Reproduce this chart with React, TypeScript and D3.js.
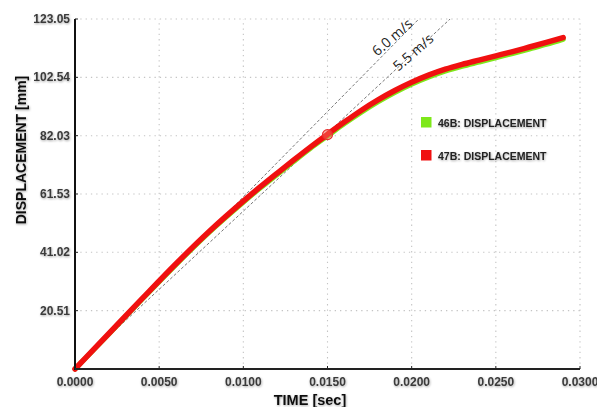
import React from "react";
import * as d3 from "d3";

const timeS = [0, 0.002, 0.004, 0.006, 0.008, 0.01, 0.011, 0.012, 0.013, 0.014, 0.015, 0.016, 0.017, 0.018, 0.019, 0.02, 0.021, 0.022, 0.023, 0.024, 0.025, 0.026, 0.027, 0.028, 0.029];
const disp47B = [0, 12.4, 24.8, 37.0, 48.5, 59.0, 64.0, 68.8, 73.5, 78.1, 82.5, 86.8, 90.9, 94.6, 97.9, 100.8, 103.3, 105.4, 107.1, 108.6, 110.1, 111.6, 113.2, 114.8, 116.5];
const disp46B = [0, 12.2, 24.6, 36.7, 48.2, 58.6, 63.6, 68.3, 73.0, 77.6, 81.9, 86.2, 90.2, 93.9, 97.2, 100.1, 102.6, 104.7, 106.4, 107.9, 109.4, 110.9, 112.5, 114.1, 115.9];

const xTicks = [0, 0.005, 0.01, 0.015, 0.02, 0.025, 0.03];
const yTicks = [0, 20.51, 41.02, 61.53, 82.03, 102.54, 123.05];

const refLines = [
  { label: "6.0 m/s", speed: 6000, offset: 0.5 },
  { label: "5.5 m/s", speed: 5500, offset: 0.5 },
];
const markerTime = [0.015];
const markerDisp = [82.4];

const legendItems = [
  { name: "46B: DISPLACEMENT", color: "#7ee81a" },
  { name: "47B: DISPLACEMENT", color: "#f01010" },
];

export default function App() {
  const W = 597, H = 407;
  const x = d3.scaleLinear().domain([0, 0.03]).range([75, 580]);
  const y = d3.scaleLinear().domain([0, 123.05]).range([369, 19]);
  const line = d3.line<number>().x((_, i) => x(timeS[i])).y((d) => y(d)).curve(d3.curveMonotoneX);
  const fontB = "Arial, 'Liberation Sans', sans-serif";
  const labelPos = [
    [395.5, 41],
    [416.5, 56],
  ];

  return (
    <svg width={W} height={H} style={{ position: "absolute", left: 0, top: 0, background: "#fff" }}>
      <defs>
        <filter id="sh" x="-10%" y="-30%" width="130%" height="180%">
          <feDropShadow dx="0.6" dy="1" stdDeviation="0.8" floodColor="#000" floodOpacity="0.35" />
        </filter>
        <clipPath id="plot">
          <rect x={75} y={19} width={505} height={350} />
        </clipPath>
      </defs>
      {/* grid */}
      {xTicks.slice(1).map((t) => (
        <line key={"gx" + t} x1={x(t)} x2={x(t)} y1={y(0)} y2={y(123.05)} stroke="#c4c4c4" strokeWidth={1.1} strokeDasharray="1.3,4" />
      ))}
      {yTicks.slice(1).map((t) => (
        <line key={"gy" + t} x1={x(0)} x2={x(0.03)} y1={y(t)} y2={y(t)} stroke="#c4c4c4" strokeWidth={1.1} strokeDasharray="1.3,4" />
      ))}
      {/* reference lines */}
      <g clipPath="url(#plot)">
        {refLines.map((r) => (
          <line key={r.label} x1={x(0)} y1={y(r.offset)} x2={x(0.03)} y2={y(r.speed * 0.03 + r.offset)} stroke="#555" strokeWidth={0.8} strokeDasharray="3,2" />
        ))}
      </g>
      {refLines.map((r, i) => (
        <text key={"l" + r.label} transform={`translate(${labelPos[i][0]},${labelPos[i][1]}) rotate(-41)`} textAnchor="middle" fontFamily="'Open Sans', sans-serif" fontSize={14} fill="#222">
          {r.label}
        </text>
      ))}
      {/* series */}
      <path d={line(disp46B) || ""} fill="none" stroke="#7ee81a" strokeWidth={5} strokeLinecap="round" />
      <path d={line(disp47B) || ""} fill="none" stroke="#f01010" strokeWidth={5.5} strokeLinecap="round" />
      {markerTime.map((t, i) => (
        <circle key={"m" + i} cx={x(t)} cy={y(markerDisp[i])} r={5} fill="#f36a5a" fillOpacity={0.5} stroke="#e83030" strokeWidth={1.2} />
      ))}
      {/* axes */}
      <line x1={x(0)} x2={x(0)} y1={y(0) + 1} y2={y(123.05)} stroke="#111" strokeWidth={2} />
      <line x1={x(0)} x2={x(0.03)} y1={y(0)} y2={y(0)} stroke="#222" strokeWidth={2} />
      {xTicks.map((t) => (
        <line key={"tx" + t} x1={x(t)} x2={x(t)} y1={y(0)} y2={y(0) - 3} stroke="#222" strokeWidth={1} />
      ))}
      {yTicks.map((t) => (
        <line key={"ty" + t} x1={x(0)} x2={x(0) + 3} y1={y(t)} y2={y(t)} stroke="#222" strokeWidth={1} />
      ))}
      <g fontFamily={fontB} fontWeight="bold" fontSize={12} fill="#3a3a3a" filter="url(#sh)">
        {xTicks.map((t) => (
          <text key={"lx" + t} x={x(t)} y={386} textAnchor="middle">{t.toFixed(4)}</text>
        ))}
        {yTicks.slice(1).map((t) => (
          <text key={"ly" + t} x={70} y={y(t) + 4} textAnchor="end">{t.toFixed(2)}</text>
        ))}
      </g>
      <g fontFamily={fontB} fontWeight="bold" fill="#111" filter="url(#sh)">
        <text x={310} y={405} fontSize={14.5} textAnchor="middle">TIME [sec]</text>
        <text transform="translate(26,150) rotate(-90)" fontSize={14} textAnchor="middle">DISPLACEMENT [mm]</text>
      </g>
      {/* legend */}
      {legendItems.map((it, i) => (
        <g key={it.name} transform={`translate(421,${117 + i * 33})`}>
          <rect x={0} y={0} width={10.5} height={10.5} fill={it.color} />
          <text x={17} y={9.5} fontFamily={fontB} fontWeight="bold" fontSize={10.5} fill="#222" filter="url(#sh)">{it.name}</text>
        </g>
      ))}
    </svg>
  );
}
